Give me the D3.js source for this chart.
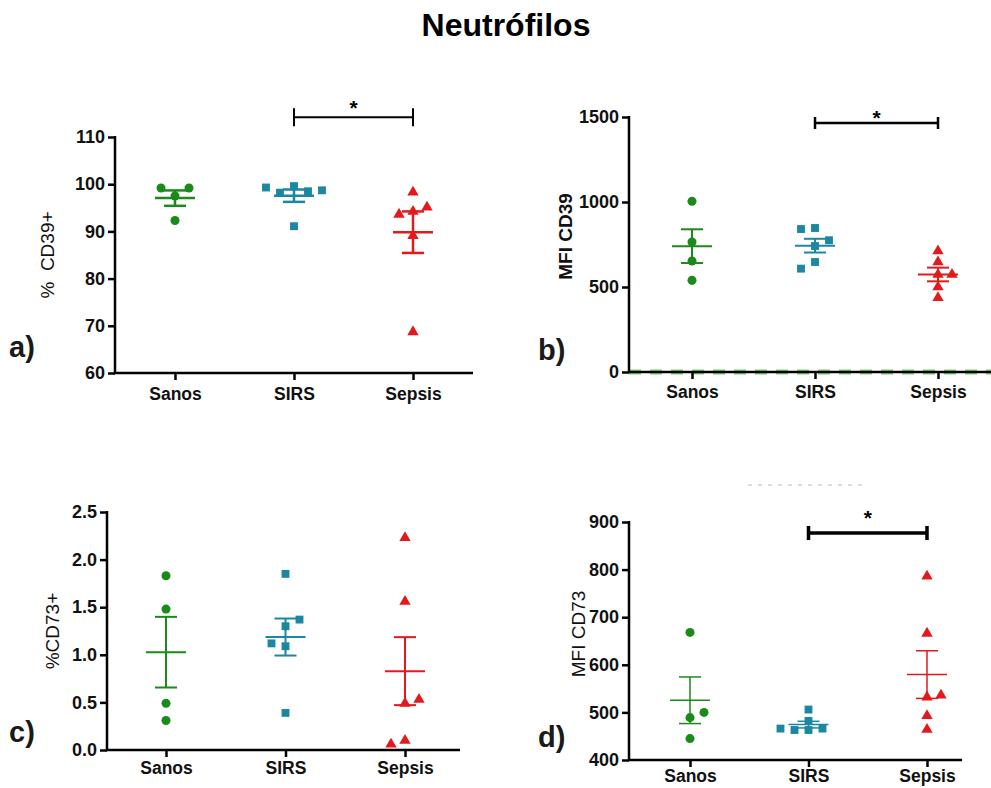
<!DOCTYPE html>
<html>
<head>
<meta charset="utf-8">
<script src="https://cdn.jsdelivr.net/npm/d3@7"></script>
<style>
  body { margin: 0; background: #fff; }
  svg { display: block; font-family: 'Liberation Sans', Arial, sans-serif; }
</style>
</head>
<body>
<svg id="chart" width="991" height="788"></svg>
<script>
var groups = ['Sanos', 'SIRS', 'Sepsis'];
var groupColors = ['#1a8a1a', '#1b87a0', '#e3191c'];

// a) % CD39+
var cd39PctSanos = [97.5, 99.2, 99.2, 92.3];
var cd39PctSirs = [99.6, 98.2, 98.5, 99.3, 98.7, 91.1];
var cd39PctSepsis = [94.2, 93.6, 95.1, 98.3, 89.1, 68.7];
var cd39PctTicks = [60, 70, 80, 90, 100, 110];

// b) MFI CD39
var cd39MfiSanos = [1004, 765, 653, 539];
var cd39MfiSirs = [847, 841, 741, 775, 647, 608];
var cd39MfiSepsis = [712, 647, 573, 573, 500, 437];
var cd39MfiTicks = [0, 500, 1000, 1500];

// c) % CD73+
var cd73PctSanos = [1.83, 1.48, 0.49, 0.31];
var cd73PctSirs = [1.85, 1.30, 1.09, 1.12, 1.37, 0.39];
var cd73PctSepsis = [2.23, 1.56, 0.10, 0.06, 0.49, 0.53];
var cd73PctTicks = [0, 0.5, 1.0, 1.5, 2.0, 2.5];

// d) MFI CD73
var cd73MfiSanos = [668, 489, 500, 445];
var cd73MfiSirs = [463, 463, 466, 466, 482, 506];
var cd73MfiSepsis = [786, 666, 532, 536, 493, 464];
var cd73MfiTicks = [400, 500, 600, 700, 800, 900];

// significant comparison (same in a, b and d)
var sigPair = ['SIRS', 'Sepsis'];

var svg = d3.select('#chart');

svg.append('text')
  .attr('x', 506)
  .attr('y', 36)
  .attr('text-anchor', 'middle')
  .style('font-size', '32px')
  .style('font-weight', 'bold')
  .text('Neutrófilos');

// spread points that overlap sideways, alternating sides
function swarm(values, y, dx, minDist, state) {
  var placed = [];
  return values.map(function(v) {
    var py = y(v);
    var off = 0;
    function hits(o) {
      return placed.some(function(p) { return Math.hypot(p.x - o, p.y - py) < minDist; });
    }
    if (hits(0)) {
      var sign = state.n++ % 2 === 0 ? state.first : -state.first;
      for (var k = 1; k < 10; k++) {
        if (!hits(sign * k * dx)) { off = sign * k * dx; break; }
        if (!hits(-sign * k * dx)) { off = -sign * k * dx; break; }
      }
    }
    placed.push({x: off, y: py});
    return off;
  });
}

function styleTicks(axisG) {
  axisG.select('.domain').remove();
  axisG.selectAll('line').attr('stroke', '#000').attr('stroke-width', 2.5);
  axisG.selectAll('text')
    .attr('fill', '#111')
    .style('font-weight', 'bold')
    .style('font-family', "'Liberation Sans', Arial, sans-serif");
}

function drawPanel(p) {
  var y = d3.scaleLinear().domain(p.domain).range([p.bottom, p.top]);
  var x = d3.scalePoint().domain(groups).range(p.centers);
  var g = svg.append('g').attr('class', 'panel');

  // dashed green baseline (panel b)
  if (p.zeroDash) {
    g.append('line')
      .attr('x1', p.left).attr('x2', p.right)
      .attr('y1', p.bottom).attr('y2', p.bottom)
      .attr('stroke', '#7fd07f')
      .attr('stroke-width', 5)
      .attr('stroke-dasharray', '12,9');
  }

  // y axis
  var yAxis = g.append('g')
    .attr('transform', 'translate(' + p.left + ',0)')
    .call(d3.axisLeft(y).tickValues(p.ticks).tickSize(7).tickSizeOuter(0).tickPadding(3)
      .tickFormat(p.format ? d3.format(p.format) : d3.format('d')));
  styleTicks(yAxis);
  yAxis.selectAll('text').style('font-size', '18px');

  // x axis
  var xAxis = g.append('g')
    .attr('transform', 'translate(0,' + p.bottom + ')')
    .call(d3.axisBottom(x).tickSize(7).tickSizeOuter(0).tickPadding(p.catPad));
  styleTicks(xAxis);
  xAxis.selectAll('text').style('font-size', '17.5px');

  // axis lines
  g.append('path')
    .attr('d', 'M' + p.left + ',' + (p.top - 1) + 'V' + p.bottom + 'H' + p.right)
    .attr('fill', 'none')
    .attr('stroke', '#000')
    .attr('stroke-width', 2.5);

  // y label
  g.append('text')
    .attr('transform', 'translate(' + p.labelX + ',' + ((p.top + p.bottom) / 2 + p.labelDy) + ') rotate(-90)')
    .attr('text-anchor', 'middle')
    .style('font-size', '19px')
    .style('font-weight', p.labelBold ? 'bold' : 'normal')
    .attr('fill', '#111')
    .style('white-space', 'pre')
    .text(p.label);

  // panel letter
  g.append('text')
    .attr('x', p.letterX)
    .attr('y', p.letterY)
    .style('font-size', '29px')
    .style('font-weight', 'bold')
    .attr('fill', '#1a1a1a')
    .text(p.letter);

  var shapes = [d3.symbolCircle, d3.symbolSquare, d3.symbolTriangle];
  var sizes = [64, 62, 56];
  var state = {n: 0, first: p.swarmFirst};

  p.series.forEach(function(vals, i) {
    var cx = x(groups[i]);
    var color = groupColors[i];
    var m = d3.mean(vals);
    var sem = d3.deviation(vals) / Math.sqrt(vals.length);

    // points
    var offs = swarm(vals, y, 14, 9, state);
    g.selectAll('.pt' + i)
      .data(vals)
      .enter()
      .append('path')
      .attr('class', 'pt' + i)
      .attr('d', d3.symbol().type(shapes[i]).size(sizes[i]))
      .attr('transform', function(d, j) {
        return 'translate(' + (cx + offs[j]) + ',' + y(d) + ')';
      })
      .attr('fill', color);

    // mean and SEM
    var eb = g.append('g')
      .attr('stroke', color)
      .attr('stroke-width', p.barWidth)
      .attr('fill', 'none');
    eb.append('line').attr('x1', cx - 20).attr('x2', cx + 20).attr('y1', y(m)).attr('y2', y(m));
    eb.append('line').attr('x1', cx).attr('x2', cx).attr('y1', y(m + sem)).attr('y2', y(m - sem));
    eb.append('line').attr('x1', cx - 11).attr('x2', cx + 11).attr('y1', y(m + sem)).attr('y2', y(m + sem));
    eb.append('line').attr('x1', cx - 11).attr('x2', cx + 11).attr('y1', y(m - sem)).attr('y2', y(m - sem));
  });

  // significance bracket
  if (p.sigY !== undefined) {
    var x1 = x(sigPair[0]), x2 = x(sigPair[1]), by = y(p.sigY);
    g.append('path')
      .attr('d', 'M' + x1 + ',' + (by - p.capH) + 'V' + (by + p.capH) + 'M' + x1 + ',' + by + 'H' + x2 +
        'M' + x2 + ',' + (by - p.capH) + 'V' + (by + p.capH))
      .attr('fill', 'none')
      .attr('stroke', '#000')
      .attr('stroke-width', p.sigWidth);
    g.append('text')
      .attr('x', (x1 + x2) / 2)
      .attr('y', by - p.starGap + 12)
      .attr('text-anchor', 'middle')
      .style('font-size', '21px')
      .style('font-weight', 'bold')
      .text('*');
  }
}

drawPanel({
  series: [cd39PctSanos, cd39PctSirs, cd39PctSepsis], ticks: cd39PctTicks,
  domain: [60, 110], left: 115, right: 473, top: 137, bottom: 373, centers: [175, 413],
  label: '%  CD39+', labelBold: false, labelX: 54, labelDy: 0, catPad: 8, swarmFirst: -1,
  letter: 'a)', letterX: 9, letterY: 357, barWidth: 2.5,
  sigY: 114.2, capH: 9, sigWidth: 2, starGap: 14
});

drawPanel({
  series: [cd39MfiSanos, cd39MfiSirs, cd39MfiSepsis], ticks: cd39MfiTicks,
  domain: [0, 1500], left: 629, right: 991, top: 117, bottom: 372, centers: [692, 938],
  label: 'MFI CD39', labelBold: true, labelX: 572, labelDy: -8, zeroDash: true, catPad: 7, swarmFirst: -1,
  letter: 'b)', letterX: 538, letterY: 360, barWidth: 2,
  sigY: 1465, capH: 6, sigWidth: 2.5, starGap: 10
});

drawPanel({
  series: [cd73PctSanos, cd73PctSirs, cd73PctSepsis], ticks: cd73PctTicks, format: '.1f',
  domain: [0, 2.5], left: 107, right: 460, top: 512, bottom: 750, centers: [166, 405],
  label: '%CD73+', labelBold: false, labelX: 59, labelDy: 0, catPad: 5, swarmFirst: -1,
  letter: 'c)', letterX: 9, letterY: 742, barWidth: 2
});

drawPanel({
  series: [cd73MfiSanos, cd73MfiSirs, cd73MfiSepsis], ticks: cd73MfiTicks,
  domain: [400, 900], left: 629, right: 962, top: 522, bottom: 760, centers: [690, 927],
  label: 'MFI CD73', labelBold: false, labelX: 585, labelDy: -7, catPad: 3, swarmFirst: 1,
  letter: 'd)', letterX: 538, letterY: 747, barWidth: 1.5,
  sigY: 877, capH: 7, sigWidth: 3.5, starGap: 20
});

// faint leftover marks above panel d
svg.append('line')
  .attr('x1', 748).attr('x2', 866).attr('y1', 485).attr('y2', 485)
  .attr('stroke', '#d4d4d4')
  .attr('stroke-width', 1.5)
  .attr('stroke-dasharray', '4,6');
</script>
</body>
</html>
